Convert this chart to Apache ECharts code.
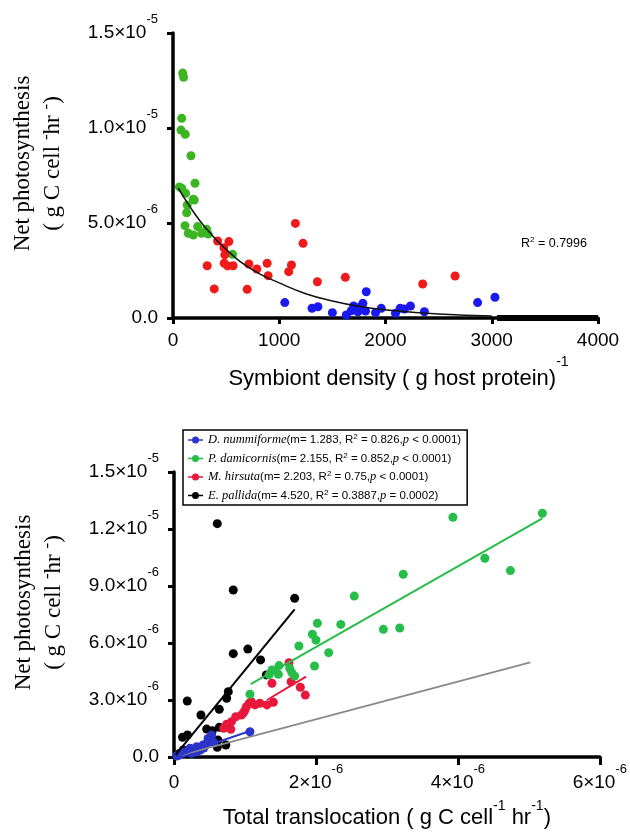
<!DOCTYPE html>
<html>
<head>
<meta charset="utf-8">
<script src="https://cdn.jsdelivr.net/npm/echarts/dist/echarts.min.js"></script>
<style>
html, body { margin: 0; padding: 0; background: #fff; }
#chart { width: 630px; height: 833px; }
</style>
</head>
<body>
<div id="chart"></div>
<script>
// photosynthesis / translocation values are in units of 1e-6

// --- top panel: symbiont density vs net photosynthesis ---
var topGreen = [[91,12.89],[100,12.67],[82,10.51],[75,9.89],[115,9.67],[169,8.54],[82,6.83],[207,7.09],[119,6.56],
  [191,6.25],[200,6.21],[134,5.95],[129,5.54],[113,4.86],[144,4.46],[191,4.37],[232,4.81],[270,4.46],[316,4.67],
  [331,4.42],[561,3.35],[60,6.9]];
var topRed = [[420,4.05],[526,4.02],[479,3.70],[488,3.32],[482,2.88],[514,2.74],[566,2.75],[322,2.75],[388,1.53],
  [714,2.84],[789,2.58],[886,2.88],[895,2.23],[698,1.51],[1089,2.44],[1115,2.79],[1152,4.98],[1224,3.93],
  [1359,1.91],[1622,2.14],[2350,1.79],[2655,2.21]];
var topBlue = [[1052,0.81],[1308,0.51],[1364,0.59],[1500,0.28],[1631,0.16],[1678,0.38],[1700,0.63],[1718,0.51],
  [1740,0.33],[1765,0.59],[1787,0.77],[1819,1.38],[1812,0.37],[1906,0.28],[1960,0.51],[2094,0.25],[2138,0.51],
  [2178,0.47],[2235,0.63],[2366,0.33],[2867,0.81],[3030,1.09]];
var topCurve = [[50,6.84],[150,5.94],[300,4.79],[500,3.61],[750,2.53],[1000,1.85],[1250,1.28],[1500,0.90],
  [1750,0.62],[2000,0.43],[2500,0.21],[3000,0.10]];
var topBase = [[3050,0],[4000,0]];

var topXTicks = [0, 1000, 2000, 3000, 4000];
var topYTicks = [0, 5, 10, 15];
var topYText = ['0.0', '5.0×10', '1.0×10', '1.5×10'];
var topYExp = ['', '-6', '-5', '-5'];

// --- bottom panel: total translocation vs net photosynthesis ---
var legendNames = ['D. nummiforme', 'P. damicornis', 'M. hirsuta', 'E. pallida'];
var fitM = ['1.283', '2.155', '2.203', '4.520'];
var fitR2 = ['0.826', '0.852', '0.75', '0.3887'];
var fitP = ['< 0.0001', '< 0.0001', '< 0.0001', '= 0.0002'];

var dnPts = [[0.085,0.11],[0.155,0.28],[0.225,0.46],[0.27,0.37],[0.32,0.54],[0.37,0.37],[0.41,0.63],[0.46,0.72],
  [0.51,0.89],[0.53,1.16],[0.48,0.98],[0.55,0.81],[0.25,0.19],[1.07,1.33],[0.04,0.05],[0.13,0.21],[0.2,0.26],
  [0.32,0.26],[0.42,0.47],[0.56,0.74]];
var pdPts = [[3.93,12.62],[5.19,12.83],[4.38,10.46],[4.74,9.81],[3.23,9.62],[2.54,8.47],[2.02,7.04],[2.35,6.98],
  [1.95,6.46],[2.00,6.16],[1.76,5.84],[2.18,5.49],[2.95,6.72],[3.18,6.79],[1.98,4.79],[1.48,4.81],[1.38,4.58],
  [1.34,4.32],[1.47,4.35],[1.63,4.67],[1.66,4.44],[1.70,4.26],[1.07,3.30]];
var mhPts = [[1.62,4.96],[1.38,3.88],[1.65,3.96],[1.78,3.67],[1.85,3.26],[1.40,2.88],[1.21,2.83],[1.31,2.74],
  [1.06,2.83],[1.14,2.74],[1.00,2.47],[0.95,2.21],[0.87,2.12],[0.81,1.86],[0.74,1.72],[0.70,1.51],[0.80,1.46],
  [1.02,2.65],[1.09,2.91],[0.98,2.33]];
var epPts = [[0.61,12.28],[0.835,8.79],[1.70,8.35],[1.04,5.68],[0.835,5.44],[1.22,5.11],[1.30,4.32],[0.765,3.44],
  [0.742,3.09],[0.187,2.95],[0.638,2.51],[0.38,2.21],[0.46,1.47],[0.54,1.38],[0.638,1.56],[0.12,1.04],[0.19,1.16],
  [0.62,0.89],[0.73,0.63],[0.61,0.51],[0.13,0.37],[0.075,0.19]];

var dnFit = [[0.05,0.06],[1.07,1.37]];
var pdFit = [[1.08,3.83],[5.19,12.56]];
var mhFit = [[1.31,3.0],[1.86,4.23]];
var epFit = [[0.02,0.1],[1.70,7.77]];
var oneToOne = [[0.1,0.1],[5.02,4.98]];

var botXTicks = [0, 2, 4, 6];
var botXText = ['0', '2×10', '4×10', '6×10'];
var botXExp = ['', '-6', '-6', '-6'];
var botYTicks = [0, 3, 6, 9, 12, 15];
var botYText = ['0.0', '3.0×10', '6.0×10', '9.0×10', '1.2×10', '1.5×10'];
var botYExp = ['', '-6', '-6', '-6', '-5', '-5'];

var SANS = 'Liberation Sans', SERIF = 'Liberation Serif';
var botColors = ['#2b35c9', '#26be48', '#e8173c', '#000000'];

function expFmt(ticks, texts, exps) {
    return function (v) {
        var i = ticks.indexOf(v);
        if (i < 0) return '';
        return '{m|' + texts[i] + '}' + (exps[i] ? '{s|' + exps[i] + '}' : '');
    };
}
var expRich = {
    m: { fontFamily: SANS, fontSize: 19, lineHeight: 40, color: '#000' },
    s: { fontFamily: SANS, fontSize: 13, lineHeight: 14, verticalAlign: 'top', color: '#000' }
};
var yNameStyle = {
    padding: [0, 0, 0, 24],
    rich: {
        t: { fontFamily: SERIF, fontSize: 23, lineHeight: 30, color: '#000' },
        u: { fontFamily: SERIF, fontSize: 17, lineHeight: 18, verticalAlign: 'top', color: '#000' }
    }
};
var yName = '{t|Net photosynthesis}\n{t|( g C cell }{u|-}{t|hr }{u|-}{t|)}';

var axisLine = { lineStyle: { color: '#000', width: 3.5 } };
var axisTick = { length: 6, lineStyle: { color: '#000', width: 3 } };

function scatter(name, data, color, gi) {
    return { name: name, type: 'scatter', xAxisIndex: gi, yAxisIndex: gi, data: data,
        symbolSize: 9, itemStyle: { color: color, opacity: 1 } };
}
function fitLine(name, data, color, width) {
    return { name: name, type: 'line', xAxisIndex: 1, yAxisIndex: 1, data: data, symbol: 'none',
        lineStyle: { color: color, width: width } };
}

var legendIcon = 'path://M0,3.3H15V4.7H0Z M11,4A3.5,3.5 0 1 1 4,4A3.5,3.5 0 1 1 11,4Z';

var chart = echarts.init(document.getElementById('chart'));
chart.setOption({
    animation: false,
    backgroundColor: '#fff',
    grid: [
        { left: 173, top: 33, width: 425, height: 285 },
        { left: 174, top: 472, width: 426, height: 285 }
    ],
    xAxis: [{
        gridIndex: 0, type: 'value', min: 0, max: 4000, interval: 1000, splitLine: { show: false },
        axisLine: axisLine, axisTick: axisTick,
        axisLabel: { fontFamily: SANS, fontSize: 19, color: '#000', margin: 13,
            formatter: function (v) { return topXTicks.indexOf(v) >= 0 ? String(v) : ''; } },
        name: '{t|Symbiont density ( g host protein)}{s|-1}', nameLocation: 'middle', nameGap: 37,
        nameTextStyle: { padding: [0, 0, 0, 26], rich: {
            t: { fontFamily: SANS, fontSize: 22, lineHeight: 48, color: '#000' },
            s: { fontFamily: SANS, fontSize: 14, lineHeight: 14, verticalAlign: 'top', color: '#000' } } }
    }, {
        gridIndex: 1, type: 'value', min: 0, max: 6, interval: 2, splitLine: { show: false },
        axisLine: axisLine, axisTick: { length: 8, lineStyle: { color: '#000', width: 3 } },
        axisLabel: { margin: 6, formatter: expFmt(botXTicks, botXText, botXExp), rich: expRich },
        name: '{t|Total translocation ( g C cell}{s|-1}{t| hr}{s|-1}{t|)}', nameLocation: 'middle', nameGap: 42,
        nameTextStyle: { rich: {
            t: { fontFamily: SANS, fontSize: 22, lineHeight: 38, color: '#000' },
            s: { fontFamily: SANS, fontSize: 14, lineHeight: 14, verticalAlign: 'top', color: '#000' } } }
    }],
    yAxis: [{
        gridIndex: 0, type: 'value', min: 0, max: 15, interval: 5, splitLine: { show: false },
        axisLine: axisLine, axisTick: axisTick,
        axisLabel: { margin: 15, formatter: expFmt(topYTicks, topYText, topYExp), rich: expRich },
        name: yName, nameLocation: 'middle', nameGap: 105, nameTextStyle: yNameStyle
    }, {
        gridIndex: 1, type: 'value', min: 0, max: 15, interval: 3, splitLine: { show: false },
        axisLine: axisLine, axisTick: axisTick,
        axisLabel: { margin: 15, formatter: expFmt(botYTicks, botYText, botYExp), rich: expRich },
        name: yName, nameLocation: 'middle', nameGap: 105, nameTextStyle: yNameStyle
    }],
    legend: {
        left: 183, top: 430, orient: 'vertical', selectedMode: false,
        itemWidth: 15, itemHeight: 8, itemGap: 5, padding: [3, 6, 3, 5],
        borderColor: '#000', borderWidth: 1.5, backgroundColor: '#fff',
        data: legendNames.map(function (n) { return { name: n, icon: legendIcon }; }),
        formatter: function (name) {
            var i = legendNames.indexOf(name);
            return '{i|' + name + '}{n|(m= ' + fitM[i] + ', R}{s|2}{n| = ' + fitR2[i] + ',}{p|p}{n| ' + fitP[i] + ')}';
        },
        textStyle: { rich: {
            i: { fontFamily: SERIF, fontStyle: 'italic', fontSize: 12.5, lineHeight: 14, color: '#000' },
            p: { fontFamily: SERIF, fontStyle: 'italic', fontSize: 12.5, lineHeight: 14, color: '#000' },
            n: { fontFamily: SANS, fontSize: 11.5, lineHeight: 14, color: '#000' },
            s: { fontFamily: SANS, fontSize: 8, lineHeight: 8, verticalAlign: 'top', color: '#000' }
        } }
    },
    graphic: [{
        type: 'text', left: 521, top: 236,
        style: { text: '{a|R}{b|2}{a| = 0.7996}', rich: {
            a: { fontFamily: SANS, fontSize: 12.5, lineHeight: 16, fill: '#000' },
            b: { fontFamily: SANS, fontSize: 8, lineHeight: 9, verticalAlign: 'top', fill: '#000' } } }
    }],
    series: [
        { name: 'fit-top', type: 'line', xAxisIndex: 0, yAxisIndex: 0, data: topCurve, smooth: true,
          symbol: 'none', lineStyle: { color: '#111', width: 1.5 } },
        { name: 'base-top', type: 'line', xAxisIndex: 0, yAxisIndex: 0, data: topBase,
          symbol: 'none', lineStyle: { color: '#000', width: 6 } },
        scatter('green-top', topGreen, '#3cb521', 0),
        scatter('red-top', topRed, '#f01a1a', 0),
        scatter('blue-top', topBlue, '#1a1aef', 0),

        fitLine('one-to-one', oneToOne, '#8a8a8a', 2),
        scatter(legendNames[3], epPts, botColors[3], 1),
        scatter(legendNames[2], mhPts, botColors[2], 1),
        scatter(legendNames[1], pdPts, botColors[1], 1),
        scatter(legendNames[0], dnPts, botColors[0], 1),
        fitLine('fit-ep', epFit, botColors[3], 2),
        fitLine('fit-mh', mhFit, botColors[2], 2),
        fitLine('fit-pd', pdFit, botColors[1], 2),
        fitLine('fit-dn', dnFit, botColors[0], 2)
    ]
});
</script>
</body>
</html>
